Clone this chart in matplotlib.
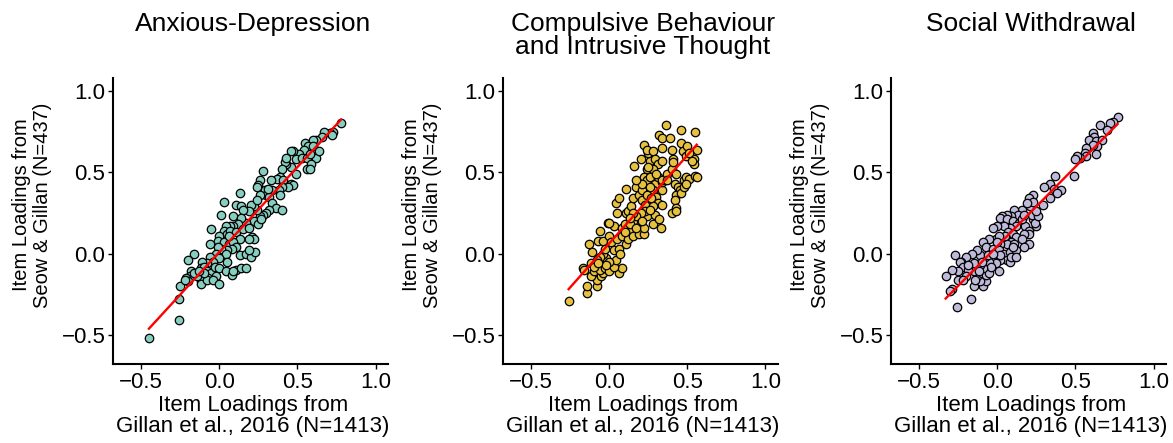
import numpy as np
import matplotlib.pyplot as plt

plt.rcParams['font.family'] = ['Liberation Sans', 'DejaVu Sans']

# panel titles and axis labels
titles = ['Anxious-Depression', 'Compulsive Behaviour\nand Intrusive Thought', 'Social Withdrawal']
xlabel = 'Item Loadings from\nGillan et al., 2016 (N=1413)'
ylabel = 'Item Loadings from\nSeow & Gillan (N=437)'
colors = ['#86CFC0', '#E5C13F', '#BEBADA']
ticks = [-0.5, 0.0, 0.5, 1.0]

# Anxious-Depression loadings
ad_x = [0.78, 0.73, 0.71, 0.67, 0.66, 0.72, 0.62, 0.60, 0.55, 0.57, 0.54, 0.51, 0.47, 0.46, 0.49, 0.53,
        0.56, 0.62, 0.59, 0.56, 0.58, 0.49, 0.46, 0.43, 0.42, 0.40, 0.39, 0.37, 0.41, 0.46, 0.47, 0.44,
        0.40, 0.38, 0.34, 0.28, 0.26, 0.25, 0.24, 0.29, 0.30, 0.26, 0.32, 0.39, 0.34, 0.36, 0.40, 0.32,
        0.30, 0.28, 0.26, 0.24, 0.22, 0.20, 0.19, 0.13, 0.03, 0.11, 0.14, 0.15, 0.09, 0.01, 0.22, 0.25,
        0.27, 0.17, 0.14, 0.12, 0.09, 0.07, 0.04, 0.03, 0.05, 0.07, -0.05, 0.11, 0.15, 0.19, 0.21, 0.22,
        0.19, 0.13, 0.00, -0.01, 0.03, 0.06, 0.09, 0.11, 0.08, 0.05, 0.01, -0.01, -0.06, -0.02, 0.04, 0.00,
        0.05, 0.13, 0.17, 0.20, 0.23, 0.19, -0.06, -0.04, -0.08, -0.11, -0.16, -0.20, -0.12, -0.10, -0.08, -0.05,
        -0.03, 0.00, 0.04, 0.08, 0.11, 0.14, 0.17, 0.09, -0.02, -0.07, -0.12, -0.14, -0.18, -0.19, -0.21, -0.16,
        -0.20, -0.25, -0.12, -0.08, -0.04, 0.00, -0.26, -0.26, -0.45, -0.22, -0.10, -0.13, 0.06, 0.24, 0.31, 0.33,
        0.43, 0.60, 0.64, 0.58]
ad_y = [0.80, 0.75, 0.74, 0.75, 0.72, 0.73, 0.70, 0.70, 0.68, 0.66, 0.64, 0.61, 0.63, 0.63, 0.58, 0.59,
        0.59, 0.59, 0.55, 0.52, 0.52, 0.49, 0.53, 0.55, 0.56, 0.52, 0.47, 0.46, 0.45, 0.43, 0.42, 0.41,
        0.41, 0.39, 0.39, 0.51, 0.45, 0.42, 0.41, 0.39, 0.36, 0.36, 0.35, 0.36, 0.31, 0.28, 0.27, 0.27,
        0.25, 0.24, 0.23, 0.27, 0.29, 0.30, 0.26, 0.37, 0.32, 0.30, 0.29, 0.27, 0.23, 0.24, 0.20, 0.18,
        0.21, 0.19, 0.22, 0.18, 0.17, 0.17, 0.17, 0.14, 0.12, 0.14, 0.15, 0.13, 0.15, 0.16, 0.10, 0.09,
        0.09, 0.09, 0.11, 0.08, 0.07, 0.06, 0.07, 0.04, 0.03, 0.02, 0.03, 0.04, 0.06, 0.00, 0.00, -0.03,
        -0.05, -0.01, 0.00, -0.02, 0.01, 0.02, -0.02, -0.05, -0.06, -0.05, 0.00, -0.04, -0.09, -0.08, -0.11, -0.12,
        -0.08, -0.09, -0.11, -0.13, -0.10, -0.09, -0.09, -0.11, -0.14, -0.15, -0.17, -0.14, -0.11, -0.14, -0.15, -0.12,
        -0.17, -0.20, -0.19, -0.16, -0.16, -0.19, -0.28, -0.41, -0.52, -0.16, -0.12, -0.11, 0.11, 0.33, 0.40, 0.45,
        0.59, 0.66, 0.63, 0.61]

# Compulsive Behaviour and Intrusive Thought loadings
cit_x = [-0.26, -0.14, -0.14, -0.08, -0.08, -0.12, -0.17, -0.16, -0.10, -0.05, -0.04, -0.06, -0.01, -0.03, 0.00, 0.06,
         0.08, 0.03, 0.04, -0.02, -0.04, -0.06, -0.08, -0.12, -0.11, -0.13, -0.07, -0.06, -0.04, 0.00, 0.01, 0.05,
         0.08, 0.11, 0.12, 0.03, 0.06, -0.01, 0.03, 0.00, 0.08, 0.10, 0.13, 0.15, 0.19, 0.22, 0.22, 0.17,
         0.15, 0.13, 0.11, 0.05, 0.04, 0.06, 0.11, 0.12, 0.14, 0.15, 0.17, 0.19, 0.21, 0.21, 0.23, 0.24,
         0.23, 0.20, 0.17, 0.15, 0.22, 0.24, 0.24, 0.26, 0.29, 0.28, 0.30, 0.31, 0.28, 0.29, 0.28, 0.32,
         0.33, 0.34, 0.34, 0.34, 0.31, 0.26, 0.25, 0.22, 0.24, 0.28, 0.29, 0.31, 0.28, 0.20, 0.16, 0.34,
         0.34, 0.36, 0.32, 0.34, 0.39, 0.40, 0.46, 0.46, 0.47, 0.50, 0.55, 0.56, 0.54, 0.54, 0.41, 0.42,
         0.44, 0.45, 0.43, 0.46, 0.42, 0.43, 0.40, 0.43, 0.48, 0.49, 0.51, 0.55, 0.56, 0.48, 0.49, 0.34,
         0.37, 0.40, 0.41, 0.25, 0.30, 0.21, 0.17, 0.26, 0.24, 0.27, 0.13, 0.10, 0.07, -0.03, 0.00, -0.02,
         -0.10, -0.07, 0.17, 0.21, 0.26, 0.37, 0.43, 0.49, 0.51, 0.53]
cit_y = [-0.29, -0.24, -0.20, -0.20, -0.16, -0.14, -0.09, -0.10, -0.11, -0.14, -0.12, -0.10, -0.10, -0.09, -0.11, -0.12,
         -0.09, -0.08, -0.04, -0.03, 0.00, -0.02, -0.04, -0.06, 0.01, 0.06, 0.08, 0.14, 0.08, 0.11, 0.07, 0.09,
         0.11, 0.06, 0.09, 0.02, 0.03, 0.19, 0.17, 0.19, 0.16, 0.18, 0.14, 0.11, 0.12, 0.12, 0.16, 0.19,
         0.20, 0.18, 0.25, 0.25, 0.31, 0.34, 0.40, 0.26, 0.29, 0.34, 0.41, 0.36, 0.39, 0.33, 0.30, 0.23,
         0.26, 0.25, 0.23, 0.25, 0.47, 0.45, 0.52, 0.47, 0.43, 0.39, 0.35, 0.31, 0.29, 0.24, 0.18, 0.21,
         0.16, 0.30, 0.39, 0.44, 0.47, 0.57, 0.62, 0.67, 0.64, 0.63, 0.58, 0.55, 0.52, 0.58, 0.54, 0.57,
         0.65, 0.79, 0.73, 0.71, 0.71, 0.64, 0.76, 0.68, 0.63, 0.66, 0.75, 0.64, 0.58, 0.55, 0.58, 0.43,
         0.41, 0.39, 0.36, 0.37, 0.33, 0.28, 0.25, 0.26, 0.45, 0.47, 0.46, 0.48, 0.47, 0.41, 0.43, 0.45,
         0.49, 0.52, 0.56, 0.53, 0.49, 0.43, 0.45, 0.41, 0.36, 0.34, 0.22, 0.13, 0.00, 0.03, -0.05, -0.07,
         -0.08, -0.06, 0.16, 0.20, 0.27, 0.45, 0.49, 0.60, 0.62, 0.57]

# Social Withdrawal loadings
sw_x = [0.77, 0.74, 0.72, 0.70, 0.66, 0.61, 0.62, 0.59, 0.63, 0.67, 0.64, 0.61, 0.57, 0.56, 0.63, 0.57,
        0.53, 0.51, 0.50, 0.49, 0.37, 0.34, 0.30, 0.36, 0.41, 0.38, 0.34, 0.29, 0.23, 0.20, 0.21, 0.16,
        0.11, 0.13, 0.09, 0.06, 0.03, 0.02, 0.06, 0.10, 0.14, 0.18, 0.23, 0.25, 0.24, 0.20, 0.20, 0.17,
        0.20, 0.12, 0.08, 0.04, 0.00, -0.03, 0.07, 0.10, 0.12, 0.16, 0.09, 0.06, 0.02, -0.01, -0.05, -0.09,
        -0.07, -0.03, 0.01, 0.04, 0.08, 0.12, 0.11, 0.06, 0.08, 0.02, -0.01, -0.05, -0.08, -0.11, -0.13, -0.16,
        -0.20, -0.23, -0.27, -0.24, -0.22, -0.25, -0.29, -0.33, -0.25, -0.29, -0.30, -0.26, -0.17, -0.15, -0.09, -0.07,
        -0.11, -0.13, -0.15, -0.19, -0.10, -0.07, -0.05, 0.01, -0.04, -0.09, -0.11, -0.15, -0.19, -0.10, -0.06, 0.02,
        0.05, 0.01, 0.16, 0.22, 0.26, 0.23, 0.19, 0.17, 0.25, 0.09, 0.12, 0.10, 0.17, -0.12, -0.14, -0.20,
        -0.22, -0.03, 0.00]
sw_y = [0.84, 0.81, 0.80, 0.76, 0.79, 0.74, 0.72, 0.70, 0.69, 0.70, 0.66, 0.67, 0.65, 0.62, 0.61, 0.60,
        0.59, 0.60, 0.58, 0.48, 0.48, 0.43, 0.41, 0.40, 0.39, 0.37, 0.34, 0.30, 0.36, 0.34, 0.29, 0.27,
        0.27, 0.24, 0.23, 0.24, 0.23, 0.22, 0.21, 0.20, 0.19, 0.17, 0.21, 0.17, 0.19, 0.14, 0.12, 0.12,
        0.06, 0.17, 0.16, 0.17, 0.17, 0.16, 0.13, 0.12, 0.10, 0.09, 0.07, 0.06, 0.06, 0.09, 0.09, 0.07,
        0.04, 0.03, 0.02, 0.00, 0.01, 0.02, 0.06, -0.04, -0.05, -0.04, -0.06, -0.05, -0.02, -0.01, 0.02, 0.00,
        -0.02, -0.05, -0.01, -0.05, -0.08, -0.11, -0.10, -0.14, -0.16, -0.22, -0.23, -0.33, -0.28, -0.20, -0.20, -0.17,
        -0.17, -0.14, -0.11, -0.10, -0.12, -0.13, -0.12, -0.11, -0.08, -0.09, -0.07, -0.06, -0.07, -0.05, -0.01, -0.01,
        0.11, 0.11, 0.21, 0.24, 0.23, 0.32, 0.31, 0.24, 0.26, -0.02, -0.02, 0.04, 0.04, -0.11, -0.16, -0.14,
        -0.16, 0.00, 0.07]

panels = [(ad_x, ad_y), (cit_x, cit_y), (sw_x, sw_y)]

W, H = 1173, 443
fig = plt.figure(figsize=(W / 100, H / 100), dpi=100)
lefts = [113, 503, 891]

for i, (x, y) in enumerate(panels):
    x = np.array(x)
    y = np.array(y)
    left = lefts[i]
    ax = fig.add_axes([left / W, 79 / H, 275 / W, 286 / H])
    ax.scatter(x, y, s=37, c=colors[i], edgecolors='black', linewidths=0.9, zorder=2)
    # linear fit
    m, b = np.polyfit(x, y, 1)
    xs = np.array([x.min(), x.max()])
    ax.plot(xs, m * xs + b, color='red', lw=1.7, zorder=3)

    ax.set_xlim(-0.68, 1.08)
    ax.set_ylim(-0.68, 1.08)
    ax.set_xticks(ticks)
    ax.set_yticks(ticks)
    for s in ['top', 'right']:
        ax.spines[s].set_visible(False)
    for s in ['left', 'bottom']:
        ax.spines[s].set_linewidth(1.5)
    ax.tick_params(length=3.5, width=1, labelsize=16, pad=2, colors='black')

    cx = (left + 140) / W
    fig.text(cx, 1 - 12 / H, titles[i], ha='center', va='top', fontsize=19, linespacing=0.95)
    fig.text(cx, 1 - 416 / H, xlabel, ha='center', va='center', fontsize=16, linespacing=0.95)
    fig.text((left - 81) / W, 1 - 205 / H, ylabel, rotation=90, ha='center', va='center',
             fontsize=14.5, linespacing=1.1)

fig.savefig('out.png', dpi=100)
